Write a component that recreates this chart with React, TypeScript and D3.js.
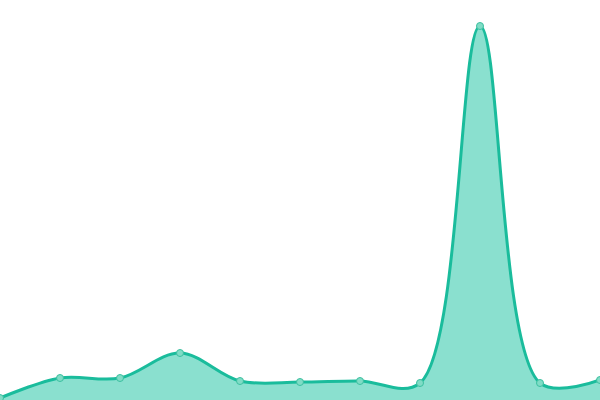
import * as d3 from "d3";
import { useEffect, useRef } from "react";

const categories = ["1", "2", "3", "4", "5", "6", "7", "8", "9", "10", "11"];
const values = [2, 22, 22, 47, 19, 18, 19, 17, 374, 17, 20];

const width = 600;
const height = 400;

export default function App() {
    const svgRef = useRef(null);

    useEffect(() => {
        const svg = d3.select(svgRef.current);
        svg.selectAll("*").remove();

        const xScale = d3.scalePoint<string>().domain(categories).range([0, width]);
        const yScale = d3.scaleLinear().domain([0, 400]).range([height, 0]);

        const data = categories.map((c, i) => ({ x: c, y: values[i] }));
        const curve = d3.curveCatmullRom.alpha(0.5);

        const area = d3.area<any>()
            .x(d => xScale(d.x) as number)
            .y0(yScale(0))
            .y1(d => yScale(d.y))
            .curve(curve);

        const line = d3.line<any>()
            .x(d => xScale(d.x) as number)
            .y(d => yScale(d.y))
            .curve(curve);

        svg.append("path")
            .attr("d", area(data))
            .style("fill", "#8ae0cf");

        svg.append("path")
            .attr("d", line(data))
            .style("fill", "none")
            .style("stroke", "#1abc9c")
            .style("stroke-width", 3);

        svg.selectAll("circle")
            .data(data)
            .enter()
            .append("circle")
            .attr("cx", d => xScale(d.x) as number)
            .attr("cy", d => yScale(d.y))
            .attr("r", 3.5)
            .style("fill", "#80dcc6")
            .style("stroke", "#3cc0a0")
            .style("stroke-width", 1);
    }, []);

    return (
        <div style={{ position: "fixed", left: 0, top: 0, width: width, height: height, background: "#fff" }}>
            <svg ref={svgRef} width={width} height={height} style={{ display: "block" }}></svg>
        </div>
    );
}
